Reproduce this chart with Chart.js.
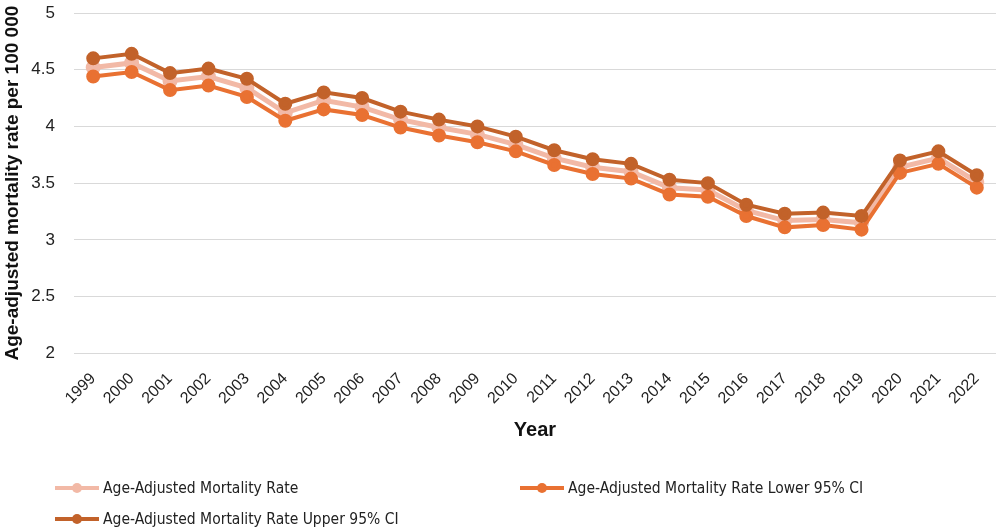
<!DOCTYPE html>
<html>
<head>
<meta charset="utf-8">
<script src="https://cdn.jsdelivr.net/npm/chart.js@4/dist/chart.umd.min.js"></script>
<style>
  html, body { margin: 0; padding: 0; background: #fff; }
  #wrap { position: relative; width: 1000px; height: 532px; }
  #legend { position: absolute; left: 0; top: 0; width: 1000px; height: 532px; pointer-events: none;
    font-family: "Liberation Sans Narrow", "DejaVu Sans Condensed", "Roboto", sans-serif; font-size: 15.5px; color: #222; }
  .item { position: absolute; display: flex; align-items: center; white-space: nowrap; }
  .sw { position: relative; width: 44px; height: 12px; margin-right: 4px; }
  .sw .ln { position: absolute; left: 0; right: 0; top: 4px; height: 4px; }
  .sw .dot { position: absolute; left: 17px; top: 1px; width: 10px; height: 10px; border-radius: 50%; }
</style>
</head>
<body>
<div id="wrap">
  <canvas id="c" width="1000" height="532"></canvas>
  <div id="legend"></div>
</div>
<script>
const years = ["1999","2000","2001","2002","2003","2004","2005","2006","2007","2008","2009","2010","2011","2012","2013","2014","2015","2016","2017","2018","2019","2020","2021","2022"];
const rate  = [4.52,4.56,4.40,4.44,4.34,4.12,4.23,4.17,4.06,3.99,3.93,3.84,3.72,3.64,3.60,3.46,3.44,3.26,3.17,3.18,3.15,3.64,3.72,3.51];
const lower = [4.44,4.48,4.32,4.36,4.26,4.05,4.15,4.10,3.99,3.92,3.86,3.78,3.66,3.58,3.54,3.40,3.38,3.21,3.11,3.13,3.09,3.59,3.67,3.46];
const upper = [4.60,4.64,4.47,4.51,4.42,4.20,4.30,4.25,4.13,4.06,4.00,3.91,3.79,3.71,3.67,3.53,3.50,3.31,3.23,3.24,3.21,3.70,3.78,3.57];
const seriesNames = ["Age-Adjusted Mortality Rate","Age-Adjusted Mortality Rate Lower 95% CI","Age-Adjusted Mortality Rate Upper 95% CI"];
const seriesColors = ["#F2B9A6","#E97132","#C2622A"];
const yTicks = ["2","2.5","3","3.5","4","4.5","5"];

const FONT = "'Liberation Sans', 'Roboto', sans-serif";
const values = [rate, lower, upper];
const widths = [5, 4, 4];
const orders = [2, 1, 0];

const datasets = values.map((v, i) => ({
  label: seriesNames[i],
  data: v,
  borderColor: seriesColors[i],
  backgroundColor: seriesColors[i],
  pointBackgroundColor: seriesColors[i],
  pointBorderColor: seriesColors[i],
  borderWidth: widths[i],
  pointRadius: 5,
  pointHoverRadius: 5,
  tension: 0,
  fill: false,
  order: orders[i]
}));

new Chart(document.getElementById('c'), {
  type: 'line',
  data: { labels: years, datasets },
  options: {
    responsive: false,
    animation: false,
    layout: { autoPadding: false, padding: { left: 0, right: 4, top: 13, bottom: 86 } },
    plugins: { legend: { display: false }, tooltip: { enabled: false } },
    scales: {
      x: {
        offset: true,
        grid: { display: false, drawTicks: false },
        border: { display: false },
        ticks: { color: '#222', font: { family: FONT, size: 16 }, maxRotation: 45, minRotation: 45, autoSkip: false, padding: 16 },
        title: { display: true, text: 'Year', color: '#111', font: { family: FONT, size: 20, weight: 'bold' }, padding: { top: -6, bottom: 4 } },
        afterFit: (s) => { s.paddingLeft = 0; s.paddingRight = 0; }
      },
      y: {
        min: 2, max: 5,
        afterBuildTicks: (axis) => { axis.ticks = yTicks.map(t => ({ value: parseFloat(t) })); },
        grid: { color: '#d9d9d9', lineWidth: 1, drawTicks: false },
        border: { display: false },
        ticks: { color: '#222', font: { family: FONT, size: 17 }, padding: 19,
                 callback: (v) => yTicks.find(t => parseFloat(t) === v) },
        title: { display: true, text: 'Age-adjusted mortality rate per 100 000', color: '#111', font: { family: FONT, size: 19, weight: 'bold' }, padding: { top: 1, bottom: 4 } },
        afterFit: (s) => { s.width = 74; s.paddingTop = 0; s.paddingBottom = 0; }
      }
    }
  }
});

const legend = document.getElementById('legend');
const pos = [[55, 488], [520, 488], [55, 519]];
seriesNames.forEach((n, i) => {
  const d = document.createElement('div');
  d.className = 'item';
  d.style.left = pos[i][0] + 'px';
  d.style.top = (pos[i][1] - 9) + 'px';
  d.innerHTML = '<div class="sw"><div class="ln" style="background:' + seriesColors[i] + '"></div><div class="dot" style="background:' + seriesColors[i] + '"></div></div><span>' + n + '</span>';
  legend.appendChild(d);
});
</script>
</body>
</html>
